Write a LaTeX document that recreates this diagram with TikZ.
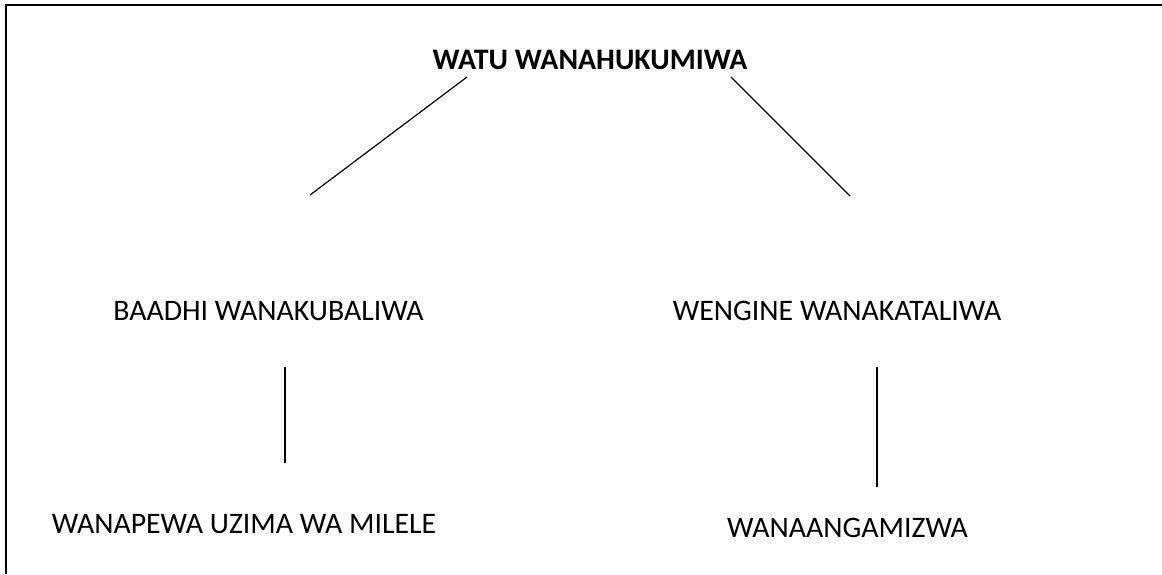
\documentclass[tikz,border=0pt]{standalone}
\usepackage{fontspec}
\setmainfont{Carlito}
\tikzset{
	kauli/.style={anchor=base, inner sep=0pt, font=\fontsize{14.9}{18}\selectfont},
	kichwa/.style={kauli, font=\bfseries\fontsize{14.9}{18}\selectfont},
	tawi/.style={line width=0.6pt}
}

\begin{document}
\begin{tikzpicture}[x=0.5pt,y=-0.5pt]
        \useasboundingbox (0,0) rectangle (1162,574);
        \draw[line width=1pt] (6,574) -- (6,5) -- (1162,5);
        \node[kichwa] (watu) at (590,69) {WATU WANAHUKUMIWA};
        \node[kauli] (baadhi) at (268.5,320) {BAADHI WANAKUBALIWA};
        \node[kauli] (wengine) at (837,320) {WENGINE WANAKATALIWA};
        \node[kauli] (uzima) at (244,533) {WANAPEWA UZIMA WA MILELE};
        \node[kauli] (angamia) at (847.5,537) {WANAANGAMIZWA};
        \coordinate (kushotoA) at (467,77);
        \coordinate (kushotoB) at (310,195);
        \coordinate (kuliaA) at (731,77);
        \coordinate (kuliaB) at (850,196);
        \coordinate (chiniA) at (285,367);
        \coordinate (chiniB) at (285,463);
        \coordinate (chiniC) at (877,367);
        \coordinate (chiniD) at (877,487);
        \draw[tawi] (kushotoA) -- (kushotoB);
        \draw[tawi] (kuliaA) -- (kuliaB);
        \draw[tawi] (chiniA) -- (chiniB);
        \draw[tawi] (chiniC) -- (chiniD);
    \end{tikzpicture}
\end{document}
